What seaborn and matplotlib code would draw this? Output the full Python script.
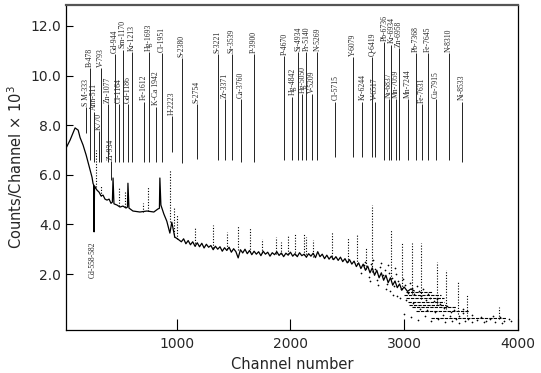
import matplotlib
matplotlib.use("Agg")
import matplotlib.pyplot as plt
import seaborn as sns
import pandas as pd

# main spectrum trace (channel, counts/channel x 10^3)
line_ch = [26, 61, 105, 132, 149, 175, 202, 228, 254, 263, 268, 272, 276, 281, 298, 316, 333, 351, 368, 386, 404, 421,
           433, 439, 447, 474, 500, 526, 553, 566, 570, 579, 614, 675, 737, 798, 833, 847, 851, 860, 886, 912, 939, 956,
           982, 1009, 1040, 1060, 1080, 1100, 1120, 1140, 1160, 1180, 1200, 1220, 1240, 1260, 1280, 1300, 1320, 1340,
           1360, 1380, 1400, 1420, 1440, 1460, 1480, 1500, 1520, 1540, 1560, 1580, 1600, 1620, 1640, 1660, 1680, 1700,
           1720, 1740, 1760, 1780, 1800, 1820, 1840, 1860, 1880, 1900, 1920, 1940, 1960, 1980, 2000, 2020, 2040, 2060,
           2080, 2100, 2120, 2140, 2160, 2180, 2200, 2220, 2240, 2260, 2280, 2300, 2320, 2340, 2360, 2380, 2400, 2420,
           2440, 2460, 2480, 2500, 2520, 2540, 2560, 2580, 2600, 2620, 2640, 2660, 2680, 2700, 2720, 2740, 2760, 2780,
           2800, 2820, 2840, 2860, 2880, 2900, 2920, 2940, 2960, 2980, 3000, 3030, 3060, 3090]
line_cnt = [7.08, 7.40, 7.89, 7.80, 7.50, 7.20, 6.80, 6.35, 5.90, 5.65, 5.60, 3.70, 5.55, 5.50, 5.38, 5.30, 5.15, 5.18,
            5.02, 4.98, 5.02, 4.85, 4.90, 5.87, 4.83, 4.78, 4.70, 4.74, 4.66, 4.70, 5.66, 4.66, 4.54, 4.50, 4.54, 4.50,
            4.62, 4.65, 5.87, 4.78, 4.42, 4.13, 3.65, 4.09, 3.49, 3.41, 3.30, 3.42, 3.22, 3.35, 3.18, 3.30, 3.12, 3.26,
            3.10, 3.24, 3.05, 3.20, 3.08, 3.15, 2.98, 3.12, 3.00, 3.10, 2.92, 3.06, 2.95, 3.08, 2.88, 3.02, 2.90, 2.65,
            2.98, 2.85, 3.00, 2.82, 2.95, 2.78, 2.92, 2.80, 2.90, 2.74, 2.92, 2.80, 2.88, 2.72, 2.86, 2.78, 2.90, 2.75,
            2.85, 2.70, 2.84, 2.76, 2.88, 2.72, 2.82, 2.70, 2.86, 2.74, 2.80, 2.68, 2.82, 2.72, 2.84, 2.66, 2.90, 2.70,
            2.80, 2.62, 2.76, 2.60, 2.72, 2.58, 2.70, 2.55, 2.68, 2.50, 2.62, 2.45, 2.58, 2.40, 2.52, 2.30, 2.45, 2.22,
            2.40, 2.15, 2.32, 2.05, 2.25, 1.95, 2.15, 1.85, 2.05, 1.75, 1.95, 1.65, 1.85, 1.55, 1.72, 1.45, 1.60, 1.35,
            1.48, 1.30, 1.40, 1.32]

# dotted peaks rising above the continuum
peak_ch = [290, 333, 490, 540, 702, 750, 939, 975, 1000, 1158, 1316, 1439, 1535, 1640, 1746, 1877, 1921, 1982, 2044,
           2123, 2140, 2202, 2368, 2509, 2588, 2667, 2719, 2886, 2982, 3070, 3149, 3289, 3368, 3474, 3553, 3833]
peak_base = [5.5, 5.15, 4.75, 4.7, 4.5, 4.55, 4.1, 3.5, 3.4, 3.15, 3.05, 3.0, 2.95, 2.9, 2.85, 2.8, 2.8, 2.8, 2.75,
             2.75, 2.7, 2.7, 2.6, 2.5, 2.4, 2.2, 2.1, 1.8, 1.4, 1.2, 1.0, 0.8, 0.6, 0.4, 0.3, 0.2]
peak_top = [7.0, 5.6, 5.5, 5.3, 4.86, 5.5, 6.2, 4.7, 4.4, 3.85, 3.97, 3.69, 3.97, 3.85, 3.4, 3.49, 3.29, 3.57, 3.65,
            3.65, 3.49, 3.37, 3.69, 3.45, 3.57, 3.09, 4.78, 3.77, 3.29, 3.25, 3.25, 2.48, 2.16, 1.68, 1.15, 0.67]

# horizontal dashed bands in the high-channel tail
band_cnt = [1.28, 1.15, 1.03, 0.87, 0.75, 0.67, 0.51, 0.23]
band_start = [3018, 3000, 3018, 3030, 3044, 3070, 3105, 3237]
band_end = [3246, 3325, 3351, 3351, 3368, 3456, 3570, 3895]

# scattered points in the tail
tail_ch = [2620, 2650, 2690, 2710, 2740, 2760, 2790, 2810, 2830, 2850, 2870, 2890, 2910, 2930, 2950, 2970, 2990,
           3010, 3030, 3050, 3070, 3090, 3110, 3130, 3150, 3170, 3190, 3210, 3230, 3260, 3290, 3320, 3350, 3380,
           3410, 3440, 3480, 3520, 3560, 3600, 3640, 3680, 3720, 3760, 3800, 3840, 3880, 3920, 2880, 2940, 3000,
           3060, 3120, 3180, 3240, 3300, 3360, 3420, 3480, 3540, 2700, 2770, 2840, 2900, 2960, 3020, 3080, 3140,
           3200, 3270, 3340, 3400, 3460, 3520, 3600, 3700, 3780, 3860, 3940, 2660, 2730, 2800, 2860, 2920]
tail_cnt = [2.05, 2.35, 1.9, 2.4, 2.2, 1.75, 2.3, 1.95, 2.15, 1.6, 2.05, 1.85, 1.5, 2.0, 1.7, 1.4, 1.8, 1.55, 1.25,
            1.65, 1.45, 1.2, 1.5, 1.3, 1.1, 1.4, 0.95, 1.2, 1.05, 0.9, 1.0, 0.8, 0.62, 0.7, 0.45, 0.55, 0.3, 0.42,
            0.2, 0.35, 0.15, 0.28, 0.12, 0.2, 0.08, 0.25, 0.1, 0.18, 1.3, 1.1, 0.4, 0.25, 0.15, 0.3, 0.1, 0.2, 0.05,
            0.12, 0.02, 0.1, 1.7, 1.55, 1.4, 1.15, 1.05, 0.95, 0.85, 0.6, 0.55, 0.45, 0.35, 0.3, 0.2, 0.6, 0.05,
            0.05, 0.3, 0.02, 0.12, 2.5, 2.55, 2.45, 2.35, 2.25]

# line identifications: label, channel, label foot (counts), line bottom (counts)
id_label = ["S M-333", "B-478", "Ann-511", "K770", "V-793", "Zn-1077", "Zr-934", "Gd-944", "Cl-1164", "Sm-1170",
            "Gd-1186", "Kr-1213", "Fe-1612", "Hg-1693", "K-Ca 1942", "Cl-1951", "H-2223", "S-2380", "S-2754",
            "S-3221", "Zr-3371", "Si-3539", "Ca-3760", "P-3900", "P-4670", "Hg-4842", "Si-4934", "Hg-5050",
            "Pr-5140", "V-5209", "N-5269", "Cl-5715", "Y-6079", "Kr-6244", "Q-6419", "V-6517", "Pb-6736",
            "Ni-6837", "Kr-6934", "Mn-7059", "Zn-6958", "Mn-7244", "Pb-7368", "Fe-7631", "Fe-7645", "Cu-7915",
            "N-8310", "Ni-8533"]
id_ch = [202, 237, 272, 316, 333, 395, 418, 456, 491, 526, 570, 605, 711, 754, 816, 868, 956, 1044, 1175, 1360,
         1421, 1482, 1561, 1675, 1947, 2018, 2070, 2105, 2140, 2193, 2237, 2395, 2553, 2632, 2719, 2746, 2826,
         2868, 2889, 2930, 2952, 3035, 3105, 3158, 3211, 3281, 3395, 3509]
id_foot = [8.77, 10.35, 8.6, 7.8, 10.35, 8.9, 6.6, 10.9, 8.9, 11.1, 8.9, 11.0, 9.0, 11.0, 8.8, 10.95, 8.4, 10.75,
           8.9, 10.9, 9.1, 10.9, 9.1, 10.9, 10.83, 9.2, 11.0, 9.3, 11.0, 9.3, 11.0, 9.0, 10.8, 9.0, 10.8, 9.0,
           11.4, 9.1, 11.3, 9.1, 11.15, 9.1, 10.95, 8.9, 10.95, 9.1, 10.95, 9.0]
id_bottom = [7.68, 6.6, 6.5, 6.5, 6.5, 6.5, 5.8, 6.5, 6.5, 6.5, 6.5, 6.5, 6.5, 6.5, 6.5, 6.5, 6.92, 6.48, 6.64,
             6.6, 6.6, 6.6, 6.5, 6.5, 6.6, 6.6, 6.6, 6.6, 6.6, 6.6, 6.6, 6.7, 6.7, 6.7, 6.7, 6.7, 6.6, 6.6, 6.6,
             6.6, 6.6, 6.6, 6.6, 6.6, 6.6, 6.6, 6.6, 6.5]

sns.set_style("ticks")
plt.rcParams["font.family"] = ["DejaVu Sans"]

fig = plt.figure(figsize=(5.41, 3.73), dpi=100)
ax = fig.add_axes([0.122, 0.115, 0.835, 0.872])

spec = pd.DataFrame({"channel": line_ch, "counts": line_cnt})
sns.lineplot(data=spec, x="channel", y="counts", ax=ax, color="black", lw=0.9, sort=False, estimator=None)

tail = pd.DataFrame({"channel": tail_ch, "counts": tail_cnt})
sns.scatterplot(data=tail, x="channel", y="counts", ax=ax, color="black", s=1.5, linewidth=0)

ax.vlines(peak_ch, peak_base, peak_top, colors="black", linestyles=(0, (1, 1.5)), lw=0.8)
ax.hlines(band_cnt, band_start, band_end, colors="black", linestyles=(0, (3, 1)), lw=0.8)

# identification lines and labels
ax.vlines(id_ch, id_bottom, [f - 0.05 for f in id_foot], colors="black", lw=0.6)
for lab, ch, foot in zip(id_label, id_ch, id_foot):
    ax.text(ch, foot, lab, rotation=90, ha="center", va="bottom", fontsize=5.5, family="Liberation Serif")
ax.text(263, 3.3, "Cd-558-582", rotation=90, ha="center", va="top", fontsize=5.5, family="Liberation Serif")

ax.set_xlim(25, 4000)
ax.set_ylim(-0.26, 12.85)
ax.set_xticks([1000, 2000, 3000, 4000])
ax.set_yticks([2, 4, 6, 8, 10, 12])
ax.set_yticklabels(["2.0", "4.0", "6.0", "8.0", "10.0", "12.0"])
ax.tick_params(axis="both", direction="in", labelsize=10, width=0.8, color="black")
ax.tick_params(axis="x", length=8, pad=5)
ax.tick_params(axis="y", length=5)
for s in ax.spines.values():
    s.set_color("black")
    s.set_linewidth(0.9)
ax.spines["top"].set_color("#555555")
ax.spines["top"].set_linewidth(1.6)

ax.set_xlabel("Channel number", fontsize=10.5)
ax.set_ylabel(r"Counts/Channel $\times$ 10$^3$", fontsize=10.5)

fig.savefig("out.png", dpi=100)
